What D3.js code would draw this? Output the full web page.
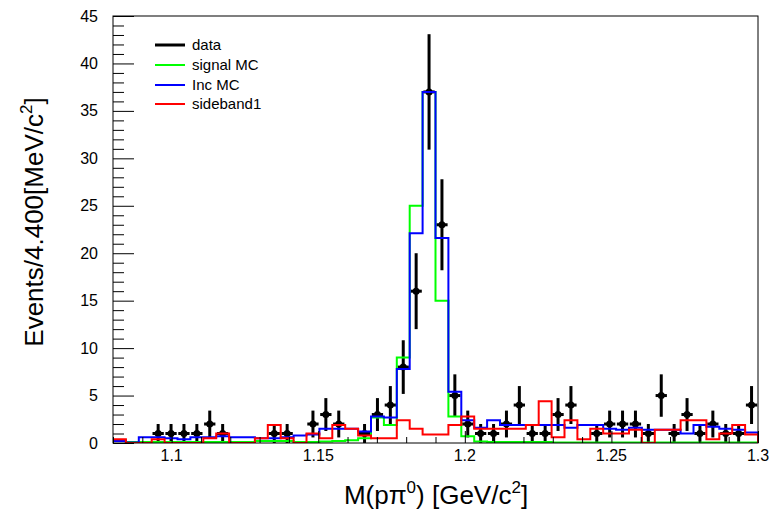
<!DOCTYPE html>
<html>
<head>
<meta charset="utf-8">
<script src="https://cdn.jsdelivr.net/npm/d3@7"></script>
<style>
  html, body { margin: 0; padding: 0; background: #fff; }
  svg { display: block; font-family: "Liberation Sans", Arial, Helvetica, sans-serif; }
</style>
</head>
<body>
<svg id="chart" width="771" height="512"></svg>
<script>
// Histogram binning: 50 bins over M(p pi0) in GeV/c^2
const xMin = 1.08;
const xMax = 1.30;
const nBins = 50;

// Observed counts per bin
const dataCounts = [
  0, 0, 0, 1, 1, 1, 1, 2, 1, 0,
  0, 0, 1, 1, 0, 2, 3, 2, 0, 1,
  3, 4, 8, 16, 37, 23, 5, 2, 1, 1,
  2, 4, 1, 1, 3, 4, 0, 1, 2, 2,
  2, 1, 5, 1, 3, 1, 2, 1, 1, 4
];

// Signal MC (normalised)
const signalMC = [
  0.3, 0.1, 0.1, 0.1, 0.1, 0.1, 0.1, 0.1, 0.1, 0.1,
  0.1, 0.2, 0.2, 0.2, 0.1, 0.1, 0.15, 0.2, 0.3, 0.5,
  2.7, 1.9, 9.0, 25.0, 37.0, 15.0, 2.8, 0.7, 0.15, 0.1,
  0.1, 0.1, 0.1, 0.1, 0.05, 0.05, 0.05, 0.05, 0.05, 0.05,
  0.05, 0.05, 0.05, 0.05, 0.05, 0.05, 0.05, 0.05, 0.05, 0.05
];

// Inclusive MC
const incMC = [
  0.2, 0.05, 0.6, 0.6, 0.5, 0.4, 0.6, 0.6, 0.7, 0.6,
  0.6, 0.5, 0.5, 0.6, 0.8, 0.9, 1.5, 1.5, 1.5, 1.2,
  2.8, 2.7, 7.8, 22.1, 37.0, 21.6, 5.4, 2.4, 1.6, 2.4,
  1.9, 1.9, 1.9, 1.9, 1.9, 1.6, 1.9, 1.9, 1.5, 1.4,
  1.6, 1.4, 1.4, 1.4, 1.0, 1.9, 1.7, 1.5, 1.4, 1.1
];

// Sideband 1
const sideband1 = [
  0.4, 0, 0, 0.4, 0, 0, 0, 0.5, 1.0, 0,
  0, 0.5, 1.9, 0.5, 0, 1.0, 0.5, 1.9, 1.5, 0.8,
  0.5, 0.5, 2.4, 1.5, 0.9, 0.9, 1.9, 2.8, 1.5, 1.5,
  1.5, 1.5, 1.9, 4.4, 0.6, 2.4, 0.4, 1.5, 1.0, 1.0,
  1.4, 0, 1.4, 1.4, 2.4, 2.4, 0.4, 1.0, 1.9, 0.9
];

// Axis ticks
const xMajorTicks = [1.1, 1.15, 1.2, 1.25, 1.3];
const xTickLabels = ["1.1", "1.15", "1.2", "1.25", "1.3"];
const yMajorTicks = [0, 5, 10, 15, 20, 25, 30, 35, 40, 45];
const yTickLabels = ["0", "5", "10", "15", "20", "25", "30", "35", "40", "45"];

// Legend entries
const legendLabels = ["data", "signal MC", "Inc MC", "sideband1"];
const legendColors = ["#000000", "#00ff00", "#0000ff", "#ff0000"];

// ---------------------------------------------------------------
const svg = d3.select("#chart");
const frame = { left: 113, right: 758, top: 16, bottom: 443 };

const x = d3.scaleLinear().domain([xMin, xMax]).range([frame.left, frame.right]);
const y = d3.scaleLinear().domain([0, 45]).range([frame.bottom, frame.top]);

const binW = (xMax - xMin) / nBins;
const edge = i => xMin + i * binW;
const centre = i => xMin + (i + 0.5) * binW;

svg.append("defs").append("clipPath").attr("id", "plotClip")
  .append("rect")
  .attr("x", frame.left).attr("y", frame.top)
  .attr("width", frame.right - frame.left)
  .attr("height", frame.bottom - frame.top);

const plot = svg.append("g").attr("clip-path", "url(#plotClip)");

// Data points: vertical sqrt(N) errors, horizontal bin-width bars, round marker
const pts = dataCounts.map((n, i) => ({ i, n })).filter(d => d.n > 0);
const dataG = plot.append("g");
dataG.selectAll("line.ey").data(pts).join("line")
  .attr("x1", d => x(centre(d.i))).attr("x2", d => x(centre(d.i)))
  .attr("y1", d => y(d.n - Math.sqrt(d.n))).attr("y2", d => y(d.n + Math.sqrt(d.n)))
  .attr("stroke", "#000").attr("stroke-width", 3);
dataG.selectAll("line.ex").data(pts).join("line")
  .attr("x1", d => x(edge(d.i)) + 0.8).attr("x2", d => x(edge(d.i + 1)) - 0.8)
  .attr("y1", d => y(d.n)).attr("y2", d => y(d.n))
  .attr("stroke", "#000").attr("stroke-width", 3);
dataG.selectAll("circle").data(pts).join("circle")
  .attr("cx", d => x(centre(d.i))).attr("cy", d => y(d.n))
  .attr("r", 3.5).attr("fill", "#000");

// Step-histogram outline
function stepPath(values) {
  const p = d3.path();
  p.moveTo(x(edge(0)), y(0));
  values.forEach((v, i) => {
    p.lineTo(x(edge(i)), y(v));
    p.lineTo(x(edge(i + 1)), y(v));
  });
  p.lineTo(x(edge(nBins)), y(0));
  return p.toString();
}

[[signalMC, "#00ff00"], [incMC, "#0000ff"], [sideband1, "#ff0000"]].forEach(([vals, col]) => {
  plot.append("path")
    .attr("d", stepPath(vals))
    .attr("fill", "none")
    .attr("stroke", col)
    .attr("stroke-width", 2)
    .attr("stroke-linejoin", "miter");
});

// Frame
svg.append("rect")
  .attr("x", frame.left).attr("y", frame.top)
  .attr("width", frame.right - frame.left)
  .attr("height", frame.bottom - frame.top)
  .attr("fill", "none").attr("stroke", "#000").attr("stroke-width", 1);

// Y axis ticks (major every 5, minor every 1)
const yAxisG = svg.append("g");
const yMinor = d3.range(0, 46, 1).filter(v => v % 5 !== 0);
yAxisG.selectAll("line.maj").data(yMajorTicks).join("line")
  .attr("x1", frame.left).attr("x2", frame.left + 21)
  .attr("y1", d => y(d) + 0.5).attr("y2", d => y(d) + 0.5)
  .attr("stroke", "#000").attr("stroke-width", 1);
yAxisG.selectAll("line.min").data(yMinor).join("line")
  .attr("x1", frame.left).attr("x2", frame.left + 11)
  .attr("y1", d => y(d) + 0.5).attr("y2", d => y(d) + 0.5)
  .attr("stroke", "#000").attr("stroke-width", 1);
yAxisG.selectAll("text").data(yMajorTicks).join("text")
  .attr("x", 98).attr("y", d => y(d) + 5.5)
  .attr("text-anchor", "end").attr("font-size", 16).attr("fill", "#000")
  .text((d, i) => yTickLabels[i]);

// X axis ticks (major every 0.05, minor every 0.01)
const xAxisG = svg.append("g");
const xMinor = d3.range(108, 131).map(v => v / 100).filter(v => !xMajorTicks.some(t => Math.abs(t - v) < 1e-9));
xAxisG.selectAll("line.maj").data(xMajorTicks).join("line")
  .attr("x1", d => x(d) + 0.5).attr("x2", d => x(d) + 0.5)
  .attr("y1", frame.bottom).attr("y2", frame.bottom - 12)
  .attr("stroke", "#000").attr("stroke-width", 1);
xAxisG.selectAll("line.min").data(xMinor).join("line")
  .attr("x1", d => x(d) + 0.5).attr("x2", d => x(d) + 0.5)
  .attr("y1", frame.bottom).attr("y2", frame.bottom - 6)
  .attr("stroke", "#000").attr("stroke-width", 1);
xAxisG.selectAll("text").data(xMajorTicks).join("text")
  .attr("x", d => x(d)).attr("y", 461)
  .attr("text-anchor", "middle").attr("font-size", 16).attr("fill", "#000")
  .text((d, i) => xTickLabels[i]);

// Axis titles
const xt = svg.append("text")
  .attr("x", 436).attr("y", 504)
  .attr("text-anchor", "middle").attr("font-size", 26).attr("fill", "#000");
xt.append("tspan").text("M(pπ");
xt.append("tspan").attr("font-size", 17).attr("dy", -11).text("0");
xt.append("tspan").attr("dy", 11).text(") [GeV/c");
xt.append("tspan").attr("font-size", 17).attr("dy", -11).text("2");
xt.append("tspan").attr("dy", 11).text("]");

const yt = svg.append("text")
  .attr("transform", "translate(43,222) rotate(-90)")
  .attr("text-anchor", "middle").attr("font-size", 26).attr("fill", "#000");
yt.append("tspan").text("Events/4.400[MeV/c");
yt.append("tspan").attr("font-size", 17).attr("dy", -11).text("2");
yt.append("tspan").attr("dy", 11).text("]");

// Legend
const legRowY = [45, 65, 85, 104];
const leg = svg.append("g");
legendLabels.forEach((lab, i) => {
  leg.append("line")
    .attr("x1", 155).attr("x2", 185)
    .attr("y1", legRowY[i]).attr("y2", legRowY[i])
    .attr("stroke", legendColors[i]).attr("stroke-width", i === 0 ? 3 : 2);
  leg.append("text")
    .attr("x", 192).attr("y", legRowY[i] + 5)
    .attr("font-size", 15).attr("fill", "#000")
    .text(lab);
});
</script>
</body>
</html>
